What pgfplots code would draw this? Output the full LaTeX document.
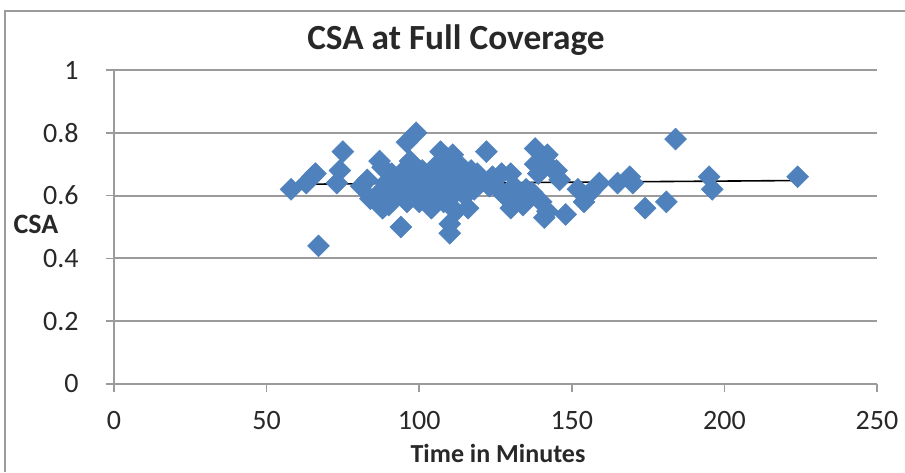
\documentclass[border=0pt]{standalone}
\usepackage{pgfplots}
\pgfplotsset{compat=1.18}
\usepackage{fontspec}
\setmainfont{Carlito}
\definecolor{gridgray}{RGB}{155,155,155}
\definecolor{markblue}{RGB}{79,129,189}
\definecolor{txt}{RGB}{40,40,40}
\pgfplotstableread{
x y
58 0.62
63 0.64
65 0.66
66 0.67
67 0.44
73 0.64
74 0.68
75 0.74
81 0.63
83 0.65
84 0.59
86 0.60
87 0.71
88 0.56
88 0.69
89 0.64
90 0.57
90 0.62
91 0.67
92 0.60
93 0.65
94 0.50
94 0.62
95 0.68
96 0.77
96 0.58
97 0.71
97 0.64
98 0.61
99 0.80
99 0.66
100 0.58
100 0.62
101 0.68
102 0.60
103 0.65
104 0.56
104 0.63
105 0.67
106 0.70
106 0.60
107 0.74
107 0.64
108 0.66
108 0.58
109 0.72
109 0.62
110 0.48
110 0.51
110 0.68
111 0.73
111 0.60
112 0.55
112 0.65
113 0.70
113 0.62
114 0.67
115 0.60
116 0.56
116 0.64
117 0.68
118 0.62
119 0.67
120 0.64
122 0.74
123 0.63
124 0.66
126 0.62
127 0.67
128 0.60
130 0.67
130 0.56
131 0.63
133 0.59
134 0.57
135 0.62
136 0.60
137 0.61
138 0.75
138 0.70
139 0.67
140 0.58
141 0.72
141 0.53
142 0.73
142 0.55
143 0.69
145 0.68
146 0.65
148 0.54
152 0.62
154 0.58
155 0.60
156 0.61
159 0.64
165 0.64
169 0.66
170 0.64
174 0.56
181 0.58
184 0.78
195 0.66
196 0.62
224 0.66
}\datatable
\begin{document}
\begin{tikzpicture}
\begin{scope}[x=0.75pt,y=0.75pt]
\useasboundingbox (0,0) rectangle (905,472);
\draw[gridgray, line width=1.5pt] (5,0) -- (5,461) -- (905,461);
\end{scope}
\begin{axis}[
  at={(85.5pt,66pt)}, anchor=south west,
  scale only axis,
  width=572.25pt, height=235.5pt,
  xmin=0, xmax=250, ymin=0, ymax=1,
  xtick={0,50,...,250},
  ytick={0,0.2,...,1},
  yticklabels={0,0.2,0.4,0.6,0.8,1},
  axis x line*=bottom, axis y line*=left,
  axis line style={draw=gridgray, line width=1.5pt, -},
  ymajorgrids,
  grid style={draw=gridgray, line width=1.5pt},
  tick align=outside,
  major tick length=6pt,
  tick style={draw=gridgray, line width=1.2pt},
  /pgf/number format/assume math mode=true,
  ticklabel style={font=\fontsize{21}{25}\selectfont, text=txt},
  yticklabel style={xshift=-17pt},
  xticklabel style={yshift=-11pt},
  clip=false,
]
\addplot[only marks, mark=square*, mark size=5.8pt,
  mark options={rotate=45, fill=markblue, draw=markblue}] table[x=x,y=y] {\datatable};
\addplot[black, line width=1.2pt] coordinates {(58,0.636) (224,0.648)};
\end{axis}
\begin{scope}[x=0.75pt,y=0.75pt]
\node[anchor=base, font=\fontsize{26.5}{30}\selectfont\bfseries, text=txt] at (456,422) {CSA at Full Coverage};
\node[anchor=base, font=\fontsize{21}{25}\selectfont\bfseries, text=txt] at (36,239) {CSA};
\node[anchor=base, font=\fontsize{19.5}{24}\selectfont\bfseries, text=txt] at (498,10) {Time in Minutes};
\end{scope}
\end{tikzpicture}
\end{document}
